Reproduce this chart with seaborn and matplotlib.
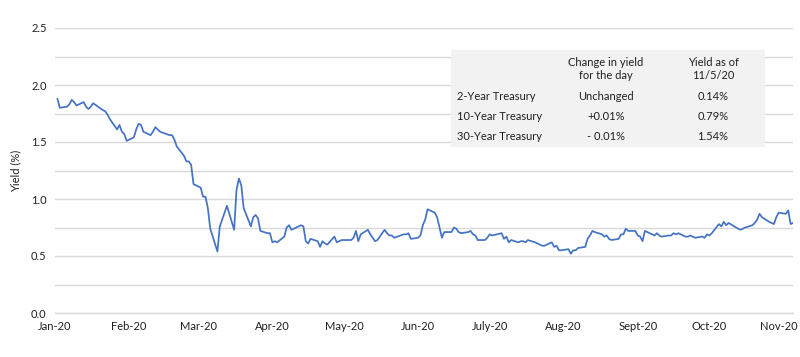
import pandas as pd
import matplotlib
matplotlib.use("Agg")
import matplotlib.pyplot as plt
import matplotlib.patches as patches
import matplotlib.transforms as mtransforms
import seaborn as sns

# 10-year Treasury yield (%), by month (2020)
jan_days = [2, 3, 6, 7, 8, 9, 10, 13, 14, 15, 16, 17, 21, 22, 23, 24, 27, 28, 29, 30, 31]
jan_vals = [1.88, 1.80, 1.81, 1.83, 1.87, 1.85, 1.82, 1.85, 1.81, 1.79, 1.81, 1.84,
            1.78, 1.77, 1.74, 1.70, 1.61, 1.65, 1.59, 1.57, 1.51]
feb_days = [3, 4, 5, 6, 7, 10, 11, 12, 13, 14, 18, 19, 20, 21, 24, 25, 26, 27, 28]
feb_vals = [1.54, 1.61, 1.66, 1.65, 1.59, 1.56, 1.59, 1.63, 1.61, 1.59, 1.56, 1.56,
            1.52, 1.46, 1.38, 1.33, 1.33, 1.30, 1.13]
mar_days = [2, 3, 4, 5, 6, 9, 10, 11, 12, 13, 16, 17, 18, 19, 20, 23, 24, 25, 26, 27, 30, 31]
mar_vals = [1.10, 1.02, 1.02, 0.92, 0.74, 0.54, 0.76, 0.82, 0.88, 0.94, 0.73, 1.08,
            1.18, 1.12, 0.92, 0.76, 0.84, 0.86, 0.83, 0.72, 0.70, 0.70]
apr_days = [1, 2, 3, 6, 7, 8, 9, 13, 14, 15, 16, 17, 20, 21, 22, 23, 24, 27, 28, 29, 30]
apr_vals = [0.62, 0.63, 0.62, 0.67, 0.75, 0.77, 0.73, 0.77, 0.76, 0.63, 0.61, 0.65,
            0.63, 0.58, 0.63, 0.61, 0.60, 0.67, 0.62, 0.63, 0.64]
may_days = [1, 4, 5, 6, 7, 8, 11, 12, 13, 14, 15, 18, 19, 20, 21, 22, 26, 27, 28, 29]
may_vals = [0.64, 0.64, 0.66, 0.72, 0.63, 0.69, 0.73, 0.69, 0.66, 0.63, 0.64, 0.73,
            0.70, 0.68, 0.68, 0.66, 0.69, 0.69, 0.70, 0.65]
jun_days = [1, 2, 3, 4, 5, 8, 9, 10, 11, 12, 15, 16, 17, 18, 19, 22, 23, 24, 25, 26, 29, 30]
jun_vals = [0.66, 0.68, 0.77, 0.82, 0.91, 0.88, 0.84, 0.75, 0.66, 0.71, 0.71, 0.75,
            0.74, 0.71, 0.70, 0.71, 0.72, 0.69, 0.68, 0.64, 0.64, 0.66]
jul_days = [1, 2, 6, 7, 8, 9, 10, 13, 14, 15, 16, 17, 20, 21, 22, 23, 24, 27, 28, 29, 30, 31]
jul_vals = [0.69, 0.68, 0.70, 0.65, 0.67, 0.62, 0.64, 0.62, 0.63, 0.63, 0.62, 0.64,
            0.62, 0.61, 0.60, 0.59, 0.59, 0.62, 0.58, 0.59, 0.55, 0.55]
aug_days = [3, 4, 5, 6, 7, 10, 11, 12, 13, 14, 17, 18, 19, 20, 21, 24, 25, 26, 27, 28, 31]
aug_vals = [0.56, 0.52, 0.55, 0.55, 0.57, 0.58, 0.65, 0.68, 0.72, 0.71, 0.69, 0.67,
            0.68, 0.65, 0.64, 0.65, 0.69, 0.69, 0.74, 0.72, 0.72]
sep_days = [1, 2, 3, 4, 8, 9, 10, 11, 14, 15, 16, 17, 18, 21, 22, 23, 24, 25, 28, 29, 30]
sep_vals = [0.68, 0.67, 0.63, 0.72, 0.68, 0.70, 0.68, 0.67, 0.68, 0.68, 0.70, 0.69,
            0.70, 0.67, 0.67, 0.68, 0.67, 0.66, 0.67, 0.66, 0.69]
oct_days = [1, 2, 5, 6, 7, 8, 9, 13, 14, 15, 16, 19, 20, 21, 22, 23, 26, 27, 28, 29, 30]
oct_vals = [0.68, 0.70, 0.78, 0.76, 0.80, 0.77, 0.79, 0.74, 0.73, 0.74, 0.75, 0.77,
            0.79, 0.82, 0.87, 0.84, 0.80, 0.79, 0.78, 0.84, 0.88]
nov_days = [2, 3, 4, 5]
nov_vals = [0.87, 0.90, 0.78, 0.79]

month_labels = ["Jan-20", "Feb-20", "Mar-20", "Apr-20", "May-20", "Jun-20",
                "July-20", "Aug-20", "Sept-20", "Oct-20", "Nov-20"]

# table inset
table_header = ["Change in yield\nfor the day", "Yield as of\n11/5/20"]
table_rows = ["2-Year Treasury", "10-Year Treasury", "30-Year Treasury"]
table_change = ["Unchanged", "+0.01%", "- 0.01%"]
table_yield = ["0.14%", "0.79%", "1.54%"]

all_months = [jan_days, feb_days, mar_days, apr_days, may_days, jun_days,
              jul_days, aug_days, sep_days, oct_days, nov_days]
all_vals = [jan_vals, feb_vals, mar_vals, apr_vals, may_vals, jun_vals,
            jul_vals, aug_vals, sep_vals, oct_vals, nov_vals]

rows = []
for m, (days, vals) in enumerate(zip(all_months, all_vals), 1):
    for d, v in zip(days, vals):
        rows.append((pd.Timestamp(2020, m, d), v))
df = pd.DataFrame(rows, columns=["date", "yield"])

sns.set_theme(style="white")
plt.rcParams["font.family"] = ["Lato", "DejaVu Sans"]
text_color = "#1f1f1f"
grid_color = "#d9d9d9"
fs = 8

W, H = 800, 357
fig = plt.figure(figsize=(W / 100, H / 100), dpi=100)
ax = fig.add_axes([55 / W, 1 - 313 / H, (793 - 55) / W, (313 - 28) / H])

sns.lineplot(data=df, x="date", y="yield", ax=ax, color="#4472C4", linewidth=1.25)

ax.set_ylim(0, 2.5)
ax.set_xlim(pd.Timestamp(2020, 1, 1), pd.Timestamp(2020, 11, 5))

ax.set_yticks([0.25 * i for i in range(11)])
ax.set_yticklabels(["%.1f" % (0.25 * i) if i % 2 == 0 else "" for i in range(11)])
ax.yaxis.grid(True, color=grid_color, linewidth=1.0)
ax.xaxis.grid(False)
ax.tick_params(axis="y", length=0, pad=6, labelsize=fs, labelcolor=text_color)

month_starts = [pd.Timestamp(2020, m, 1) for m in range(1, 12)]
ax.set_xticks(month_starts)
ax.set_xticklabels(month_labels)
ax.tick_params(axis="x", length=3, width=0.8, color=grid_color, direction="in",
               pad=6, labelsize=fs, labelcolor=text_color)
# nudge the last label so it stays inside the canvas
last = ax.get_xticklabels()[-1]
last.set_transform(last.get_transform() +
                   mtransforms.ScaledTranslation(-5 / 100, 0, fig.dpi_scale_trans))

for s in ["top", "right", "left"]:
    ax.spines[s].set_visible(False)
ax.spines["bottom"].set_color(grid_color)
ax.spines["bottom"].set_linewidth(1.0)

ax.set_xlabel("")
ax.set_ylabel("Yield (%)", fontsize=fs, color=text_color, labelpad=7)


def fx(x):
    return x / W


def fy(y):
    return 1 - y / H


box = patches.Rectangle((fx(451), fy(147)), fx(765) - fx(451), fy(50) - fy(147),
                        transform=fig.transFigure, facecolor="#f2f2f2",
                        edgecolor="none", zorder=2)
fig.add_artist(box)

col_x = [606, 713]
for x, h in zip(col_x, table_header):
    fig.text(fx(x), fy(69), h, ha="center", va="center", fontsize=fs,
             color=text_color, linespacing=1.2, zorder=3)

row_y = [97, 117, 136]
for y, name, ch, yl in zip(row_y, table_rows, table_change, table_yield):
    fig.text(fx(457), fy(y), name, ha="left", va="center", fontsize=fs,
             color=text_color, zorder=3)
    fig.text(fx(col_x[0]), fy(y), ch, ha="center", va="center", fontsize=fs,
             color=text_color, zorder=3)
    fig.text(fx(col_x[1]), fy(y), yl, ha="center", va="center", fontsize=fs,
             color=text_color, zorder=3)

fig.savefig("out.png", dpi=100, facecolor="white")
